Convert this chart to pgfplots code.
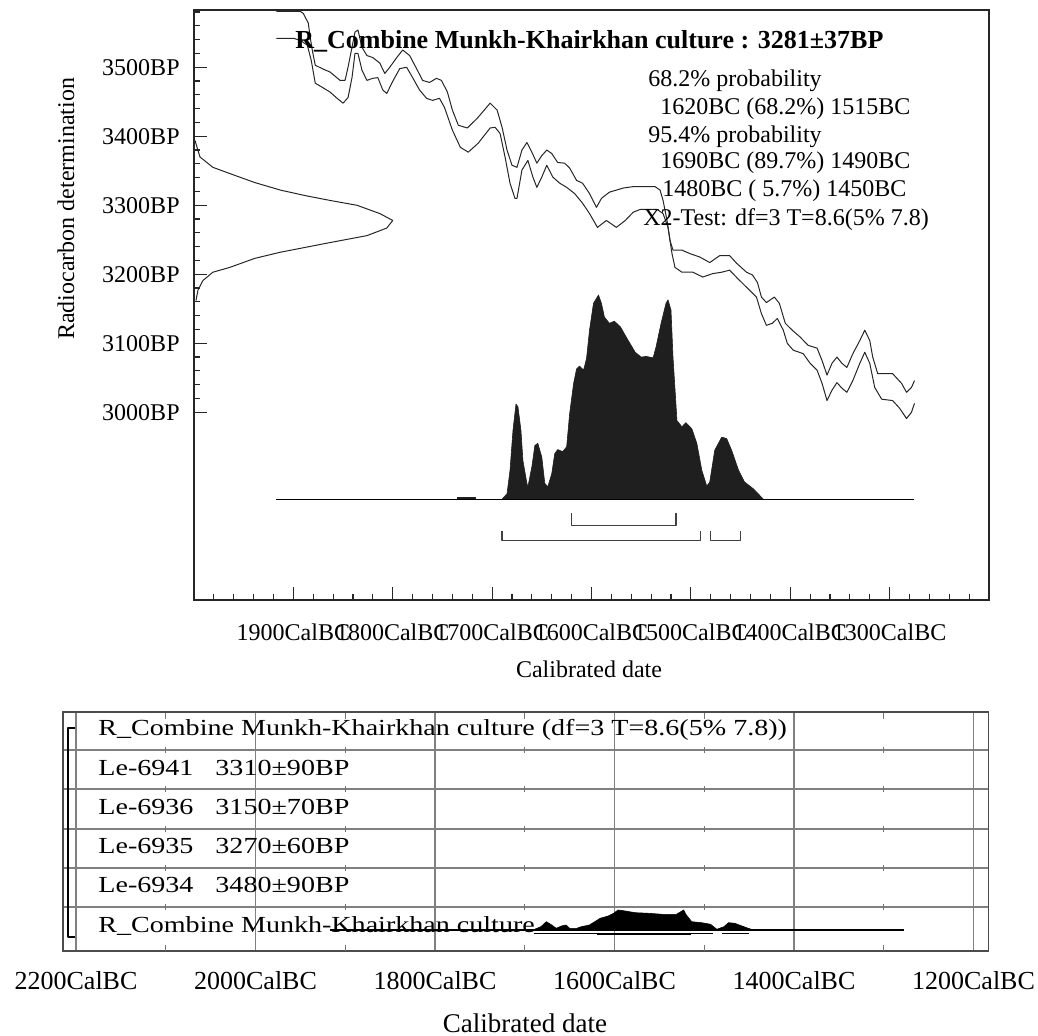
\documentclass[border=0pt]{standalone}
\usepackage{pgfplots}
\pgfplotsset{compat=1.18}
\usepackage{fontspec}
\setmainfont{Liberation Serif}
\newfontfamily\rowfont[FakeStretch=1.22]{Liberation Serif}

\pgfplotstableread{
x y
-1917 3581
-1893 3581
-1890 3578
-1885 3564
-1883 3543
-1881 3525
-1878 3503
-1871 3498
-1863 3493
-1853 3481
-1848 3481
-1845 3500
-1841 3529
-1838 3551
-1835 3554
-1831 3529
-1826 3517
-1820 3514
-1813 3506
-1808 3491
-1803 3500
-1796 3514
-1790 3525
-1783 3517
-1776 3498
-1770 3481
-1763 3478
-1756 3484
-1751 3481
-1745 3464
-1740 3438
-1734 3416
-1725 3412
-1715 3426
-1702 3448
-1695 3438
-1690 3413
-1685 3380
-1680 3358
-1675 3355
-1670 3380
-1665 3391
-1660 3377
-1655 3361
-1650 3372
-1645 3380
-1640 3375
-1634 3362
-1627 3361
-1622 3354
-1615 3336
-1609 3332
-1602 3317
-1595 3297
-1590 3310
-1582 3319
-1568 3325
-1558 3327
-1536 3327
-1531 3322
-1528 3307
-1524 3278
-1521 3249
-1518 3235
-1509 3235
-1501 3230
-1491 3225
-1481 3217
-1471 3227
-1461 3227
-1454 3216
-1444 3203
-1438 3199
-1433 3188
-1429 3167
-1424 3159
-1416 3167
-1411 3158
-1405 3129
-1398 3119
-1390 3109
-1382 3097
-1373 3093
-1368 3075
-1363 3054
-1358 3071
-1353 3080
-1348 3071
-1343 3065
-1337 3085
-1330 3104
-1325 3119
-1320 3104
-1317 3080
-1312 3056
-1297 3056
-1288 3042
-1283 3029
-1278 3036
-1275 3046
}\upcurve

\pgfplotstableread{
x y
-1917 3542
-1900 3542
-1893 3539
-1886 3532
-1882 3510
-1878 3477
-1871 3471
-1863 3464
-1856 3455
-1850 3448
-1845 3456
-1841 3485
-1838 3520
-1835 3520
-1831 3496
-1826 3481
-1820 3484
-1815 3485
-1810 3467
-1806 3462
-1801 3477
-1793 3498
-1786 3500
-1780 3485
-1773 3467
-1766 3455
-1760 3452
-1753 3455
-1748 3442
-1740 3409
-1732 3384
-1724 3377
-1714 3390
-1702 3412
-1697 3413
-1692 3404
-1687 3370
-1682 3332
-1677 3310
-1675 3310
-1670 3351
-1664 3365
-1659 3341
-1655 3326
-1650 3341
-1645 3358
-1639 3341
-1632 3332
-1625 3326
-1617 3317
-1609 3303
-1602 3288
-1594 3268
-1585 3278
-1575 3268
-1566 3278
-1558 3290
-1551 3294
-1534 3294
-1528 3288
-1523 3268
-1519 3230
-1516 3210
-1509 3203
-1498 3203
-1488 3196
-1478 3201
-1469 3203
-1461 3206
-1453 3194
-1441 3177
-1434 3167
-1429 3143
-1424 3126
-1418 3129
-1413 3136
-1407 3119
-1403 3100
-1397 3090
-1387 3085
-1380 3071
-1373 3061
-1368 3042
-1363 3017
-1358 3032
-1353 3043
-1348 3035
-1343 3029
-1337 3046
-1330 3071
-1325 3087
-1320 3071
-1315 3036
-1308 3019
-1297 3017
-1290 3006
-1283 2991
-1278 3000
-1275 3013
}\lowcurve

\pgfplotstableread{
x y
-1690 2874
-1685 2882
-1682 2916
-1679 2974
-1676 3012
-1674 3008
-1671 2974
-1669 2930
-1665 2897
-1664 2892
-1660 2921
-1657 2952
-1654 2955
-1650 2935
-1647 2897
-1644 2892
-1640 2911
-1637 2940
-1634 2946
-1629 2943
-1625 2950
-1622 2998
-1618 3042
-1615 3063
-1612 3067
-1608 3061
-1605 3078
-1602 3119
-1598 3158
-1593 3170
-1590 3158
-1587 3138
-1582 3129
-1577 3132
-1571 3124
-1563 3104
-1556 3087
-1550 3080
-1545 3081
-1538 3079
-1535 3095
-1530 3129
-1525 3158
-1523 3163
-1520 3148
-1518 3080
-1514 2988
-1509 2979
-1505 2985
-1499 2976
-1494 2955
-1489 2916
-1484 2893
-1481 2899
-1476 2945
-1469 2964
-1464 2962
-1459 2945
-1452 2916
-1446 2899
-1437 2889
-1427 2874
}\distbig

\pgfplotstableread{
x y
-1999 3394
-1994 3370
-1981 3355
-1964 3346
-1939 3333
-1913 3322
-1888 3314
-1863 3307
-1836 3300
-1813 3288
-1800 3278
-1806 3267
-1826 3256
-1863 3246
-1888 3239
-1913 3232
-1939 3223
-1964 3210
-1981 3203
-1991 3191
-1996 3177
-1998 3162
}\gausscurve

\pgfplotstableread{
x y
-1691 21
-1682 24.3
-1676 29.3
-1670 26
-1665 22.7
-1659 25
-1654 26
-1650 22.7
-1642 22.7
-1637 24.3
-1628 26
-1622 29.3
-1616 32.7
-1607 35
-1601 37.7
-1596 41
-1588 40
-1577 38.3
-1562 37.7
-1547 36.7
-1531 36.7
-1523 41
-1520 36
-1514 29.3
-1503 28.3
-1493 26.7
-1486 21.7
-1478 24.3
-1473 28.3
-1466 27.7
-1458 25
-1451 22.7
-1445 21
}\distsmall

\begin{document}
\begin{tikzpicture}[x=1pt,y=1pt]
\useasboundingbox (0,0) rectangle (519,-518);
\begin{axis}[
  at={(97pt,-5pt)}, anchor=north west, scale only axis,
  width=397.5pt, height=295pt,
  xmin=-2000, xmax=-1200, ymin=2728, ymax=3583,
  axis line style={black!85, line width=0.8pt},
  tick pos=left, tick align=inside,
  xtick={-1900,-1800,...,-1300},
  xticklabels={1900CalBC,1800CalBC,1700CalBC,1600CalBC,1500CalBC,1400CalBC,1300CalBC},
  minor xtick={-1980,-1960,...,-1220},
  ytick={3000,3100,...,3500},
  yticklabels={3000BP,3100BP,3200BP,3300BP,3400BP,3500BP},
  minor ytick={3000,3020,...,3580},
  major tick length=6.5pt, minor tick length=3pt,
  tick style={black!85, line width=0.6pt},
  xticklabel style={font=\fontsize{12}{14}\selectfont, anchor=base, yshift=-20pt},
  yticklabel style={font=\fontsize{12}{14}\selectfont, anchor=east, inner sep=0pt, xshift=-7pt},
  every axis plot/.append style={line join=round},
]
\addplot[black!85, line width=0.5pt, sharp plot] table {\upcurve};
\addplot[black!85, line width=0.5pt, sharp plot] table {\lowcurve};
\addplot[black!85, line width=0.5pt, sharp plot] table {\gausscurve};
\addplot[fill=black!88, draw=black!88, line width=0.3pt, sharp plot] table {\distbig};
\addplot[fill=black!88, draw=black!88, line width=0.3pt, sharp plot] coordinates {(-1735,2874) (-1735,2877) (-1717,2877) (-1717,2874)};
\addplot[black, line width=0.7pt, sharp plot] coordinates {(-1917,2874) (-1275,2874)};
\addplot[black!75, line width=0.6pt, sharp plot] coordinates {(-1620,2854) (-1620,2836) (-1515,2836) (-1515,2854)};
\addplot[black!75, line width=0.6pt, sharp plot] coordinates {(-1690,2828) (-1690,2814) (-1490,2814) (-1490,2828)};
\addplot[black!75, line width=0.6pt, sharp plot] coordinates {(-1480,2828) (-1480,2814) (-1450,2814) (-1450,2828)};
\end{axis}

\begin{axis}[
  at={(31.5pt,-356pt)}, anchor=north west, scale only axis,
  width=462.75pt, height=119.5pt,
  xmin=-2214.5, xmax=-1183.3, ymin=0, ymax=239,
  axis line style={black!70, line width=0.8pt},
  xtick={-2200,-2000,...,-1200},
  xticklabels={2200CalBC,2000CalBC,1800CalBC,1600CalBC,1400CalBC,1200CalBC},
  ytick={44,83,122,162,201}, yticklabels={},
  xmajorgrids, ymajorgrids,
  grid style={black!50, line width=0.75pt},
  major tick length=0pt,
  xticklabel style={font=\fontsize{13}{15}\selectfont, anchor=base, yshift=-19pt},
  every axis plot/.append style={line join=round},
]
\addplot[only marks, mark=|, mark size=1.5pt, black!55, mark options={line width=0.6pt}] coordinates {
(-2100,3.3) (-1900,3.3) (-1700,3.3) (-1500,3.3) (-1300,3.3)
(-2100,44) (-1900,44) (-1700,44) (-1500,44) (-1300,44)
(-2100,83) (-1900,83) (-1700,83) (-1500,83) (-1300,83)
(-2100,122) (-1900,122) (-1700,122) (-1500,122) (-1300,122)
(-2100,162) (-1900,162) (-1700,162) (-1500,162) (-1300,162)
(-2100,201) (-1900,201) (-1700,201) (-1500,201) (-1300,201)
(-2100,235) (-1900,235) (-1700,235) (-1500,235) (-1300,235)};
\addplot[black, line width=0.8pt, sharp plot] coordinates {(-2201,223) (-2209,223) (-2209,14) (-2201,14)};
\addplot[fill=black, draw=black, line width=0.3pt, sharp plot] table {\distsmall};
\addplot[black, line width=0.6pt, sharp plot] coordinates {(-1917,21) (-1277,21)};
\addplot[black, line width=0.5pt, sharp plot] coordinates {(-1690,18) (-1490,18)};
\addplot[black, line width=0.5pt, sharp plot] coordinates {(-1480,18) (-1450,18)};
\addplot[black, line width=0.8pt, sharp plot] coordinates {(-1620,17) (-1515,17)};
\begin{scope}[every node/.style={anchor=base west, inner sep=0pt, font=\rowfont\fontsize{11.5}{13}\selectfont}]
\node at (axis cs:-2175.5,216) {R\_Combine Munkh-Khairkhan culture (df=3 T=8.6(5\% 7.8))};
\node at (axis cs:-2175.5,176) {Le-6941\hspace{11pt}3310±90BP};
\node at (axis cs:-2175.5,137) {Le-6936\hspace{11pt}3150±70BP};
\node at (axis cs:-2175.5,98) {Le-6935\hspace{11pt}3270±60BP};
\node at (axis cs:-2175.5,59) {Le-6934\hspace{11pt}3480±90BP};
\node at (axis cs:-2175.5,19) {R\_Combine Munkh-Khairkhan culture};
\end{scope}
\end{axis}

\node[anchor=base west, inner sep=0pt, font=\fontsize{13}{15}\selectfont\bfseries] at (147.5,-24.5) {R\_Combine Munkh-Khairkhan culture : 3281±37BP};
\begin{scope}[every node/.style={anchor=base west, inner sep=0pt, font=\fontsize{12}{14}\selectfont}]
\node at (324,-43.5) {68.2\% probability};
\node at (330,-57.5) {1620BC (68.2\%) 1515BC};
\node at (324,-71.5) {95.4\% probability};
\node at (330,-84.5) {1690BC (89.7\%) 1490BC};
\node at (331,-98.5) {1480BC (\ 5.7\%) 1450BC};
\node at (321.5,-113) {X2-Test: df=3 T=8.6(5\% 7.8)};
\end{scope}
\node[rotate=90, inner sep=0pt, font=\fontsize{12}{14}\selectfont] at (33,-104.5) {Radiocarbon determination};
\node[anchor=base, inner sep=0pt, font=\fontsize{12}{14}\selectfont] at (294.5,-338.5) {Calibrated date};
\node[anchor=base, inner sep=0pt, font=\fontsize{13.5}{15}\selectfont] at (262.5,-516) {Calibrated date};
\end{tikzpicture}
\end{document}
